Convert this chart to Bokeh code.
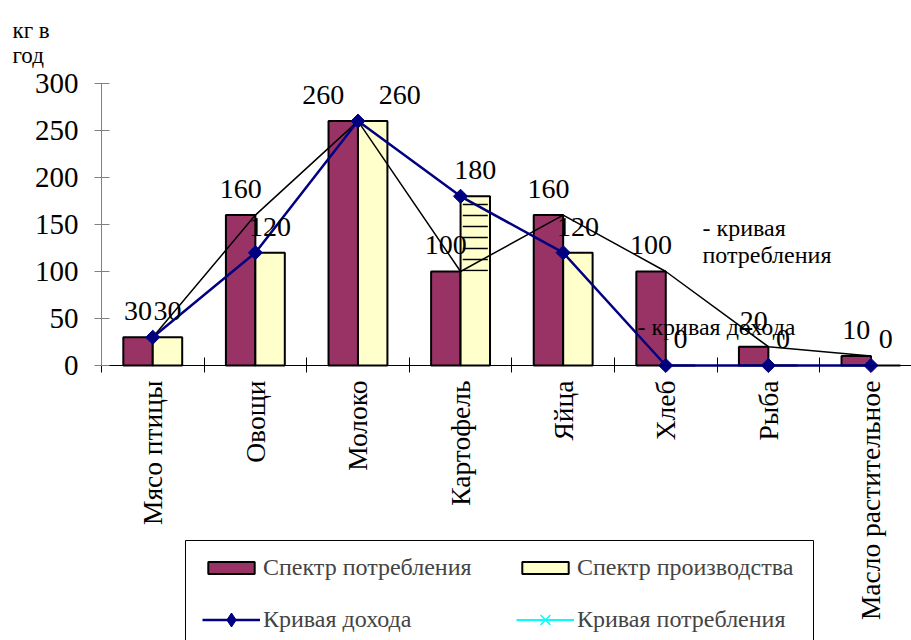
import numpy as np
from bokeh.plotting import figure
from bokeh.models import (ColumnDataSource, Range1d, FixedTicker, Label,
                          Legend, LegendItem, BoxAnnotation)
from bokeh.embed import file_html
from bokeh.resources import INLINE
from bokeh.core.properties import value

# ---------------- data ----------------
categories = ["Мясо птицы", "Овощи", "Молоко", "Картофель", "Яйца",
              "Хлеб", "Рыба", "Масло растительное"]
consumption = [30, 160, 260, 100, 160, 100, 20, 10]        # Спектр потребления
production = [30, 120, 260, 180, 120, 0, 0, 0]             # Спектр производства
income_curve = [30, 120, 260, 180, 120, 0, 0, 0]           # Кривая дохода
consumption_curve = [30, 160, 260, 100, 160, 100, 20, 10]  # drawn consumption curve
legend_curve = [np.nan] * len(categories)                  # "Кривая потребления" series (no visible points)
y_ticks = [0, 50, 100, 150, 200, 250, 300]
hatch_index = [3]          # Картофель
hatch_top = [175]
hatch_bottom = [100]

# ---------------- styling ----------------
FONT = "Liberation Serif"
MAROON = "#993366"
CREAM = "#FFFFCC"
NAVY = "#000080"
n = len(categories)
centers = np.arange(n) + 0.5
BW = 0.287
HALF = BW / 2
cons_label_dx = [0, 0, -20, 0, 0, 0, 0, 0]
prod_label_dx = [0, 0, 27, 0, 0, 0, 0, 0]

# frame covers the whole canvas; axes are pinned at 0 with fixed_location
p = figure(width=911, height=640, output_backend="svg", toolbar_location=None,
           x_range=Range1d(-0.984, 7.895), y_range=Range1d(-292.6, 388.3),
           min_border=0, background_fill_color="white")
p.outline_line_color = None
p.xgrid.visible = False
p.ygrid.visible = False

cons_src = ColumnDataSource(dict(x=centers - HALF, top=consumption,
                                 lbl=[str(v) for v in consumption], dx=cons_label_dx))
prod_src = ColumnDataSource(dict(x=centers + HALF, top=production,
                                 lbl=[str(v) for v in production], dx=prod_label_dx))

r_cons = p.vbar(x="x", top="top", width=BW, source=cons_src, fill_color=MAROON,
                line_color="black", line_width=2)
r_prod = p.vbar(x="x", top="top", width=BW, source=prod_src, fill_color=CREAM,
                line_color="black", line_width=2)

hatch_src = ColumnDataSource(dict(x=centers[hatch_index] + HALF, top=hatch_top,
                                  bottom=hatch_bottom))
p.vbar(x="x", top="top", bottom="bottom", width=BW * 0.85, source=hatch_src,
       fill_alpha=0, line_alpha=0, hatch_pattern="horizontal_line",
       hatch_scale=11, hatch_weight=1.5, hatch_color="black")

# drawn consumption curve (black)
p.line(centers, consumption_curve, line_color="black", line_width=1.5)

# income curve
r_inc_line = p.line(centers, income_curve, line_color=NAVY, line_width=2.5)
p.scatter(centers, income_curve, marker="square", angle=np.pi / 4,
          size=10, fill_color=NAVY, line_color=NAVY)
# legend marker for the income curve (diamond)
r_inc_leg = p.scatter(centers, legend_curve, marker="diamond", size=15,
                      fill_color=NAVY, line_color=NAVY)

# "Кривая потребления" series (cyan), no visible points
r_cc_line = p.line(centers, legend_curve, line_color="cyan", line_width=2)
r_cc_pts = p.scatter(centers, legend_curve, marker="x", size=13,
                     line_color="cyan", line_width=1.5)

# value labels
for src in (cons_src, prod_src):
    p.text(x="x", y="top", text="lbl", x_offset="dx", y_offset=-26, source=src,
           text_align="center", text_baseline="alphabetic",
           text_font=value(FONT), text_font_size="28px", text_color="black")

# annotations
def ann(x, y, t, size="24px"):
    p.add_layout(Label(x=x, y=y, text=t,
                       text_font=FONT, text_font_size=size, text_color="black",
                       text_baseline="alphabetic", text_align="left"))

ann(5.858, 146.5, "- кривая")
ann(5.858, 117.5, "потребления")
ann(5.224, 40.6, "- кривая дохода")
ann(-0.867, 356.5, "кг в", size="23px")
ann(-0.867, 329.5, "год", size="23px")

# axes
xa = p.xaxis[0]
xa.fixed_location = 0
xa.bounds = (0, 7.895)
xa.ticker = FixedTicker(ticks=list(centers), minor_ticks=list(range(n + 1)))
xa.major_label_overrides = {float(c): cat for c, cat in zip(centers, categories)}
xa.major_label_orientation = np.pi / 2
xa.major_tick_in = 0
xa.major_tick_out = 0
xa.minor_tick_in = 8
xa.minor_tick_out = 7
xa.minor_tick_line_color = "black"
xa.axis_line_color = "black"
xa.major_label_standoff = 8
xa.major_label_text_font = FONT
xa.major_label_text_font_size = "27.5px"
xa.major_label_text_color = "black"

ya = p.yaxis[0]
ya.fixed_location = 0
ya.bounds = (0, 300)
ya.ticker = FixedTicker(ticks=y_ticks, minor_ticks=[])
ya.major_tick_in = 8
ya.major_tick_out = 7
ya.major_tick_line_color = "#808080"
ya.axis_line_color = "#808080"
ya.major_label_standoff = 16
ya.major_label_text_font = FONT
ya.major_label_text_font_size = "29px"
ya.major_label_text_color = "black"

# legend frame
p.add_layout(BoxAnnotation(left=0.819, right=6.94, top=-186.2, bottom=-320,
                           fill_color="white", fill_alpha=1,
                           line_color="black", line_width=1, line_alpha=1))

common = dict(orientation="horizontal", ncols=2, label_text_font=FONT,
              label_text_font_size="24px", glyph_width=58, label_standoff=3,
              spacing=24, padding=0, margin=0, border_line_alpha=0,
              background_fill_alpha=0, label_height=28, label_width=229)
legend_bars = Legend(items=[
    LegendItem(label="Спектр потребления", renderers=[r_cons]),
    LegendItem(label="Спектр производства", renderers=[r_prod]),
], location=(202, 59), glyph_height=15, **common)
legend_lines = Legend(items=[
    LegendItem(label="Кривая дохода", renderers=[r_inc_line, r_inc_leg]),
    LegendItem(label="Кривая потребления", renderers=[r_cc_line, r_cc_pts]),
], location=(202, 3.5), glyph_height=35, **common)
p.add_layout(legend_bars, "center")
p.add_layout(legend_lines, "center")

open("out.html", "w").write(file_html(p, INLINE))
